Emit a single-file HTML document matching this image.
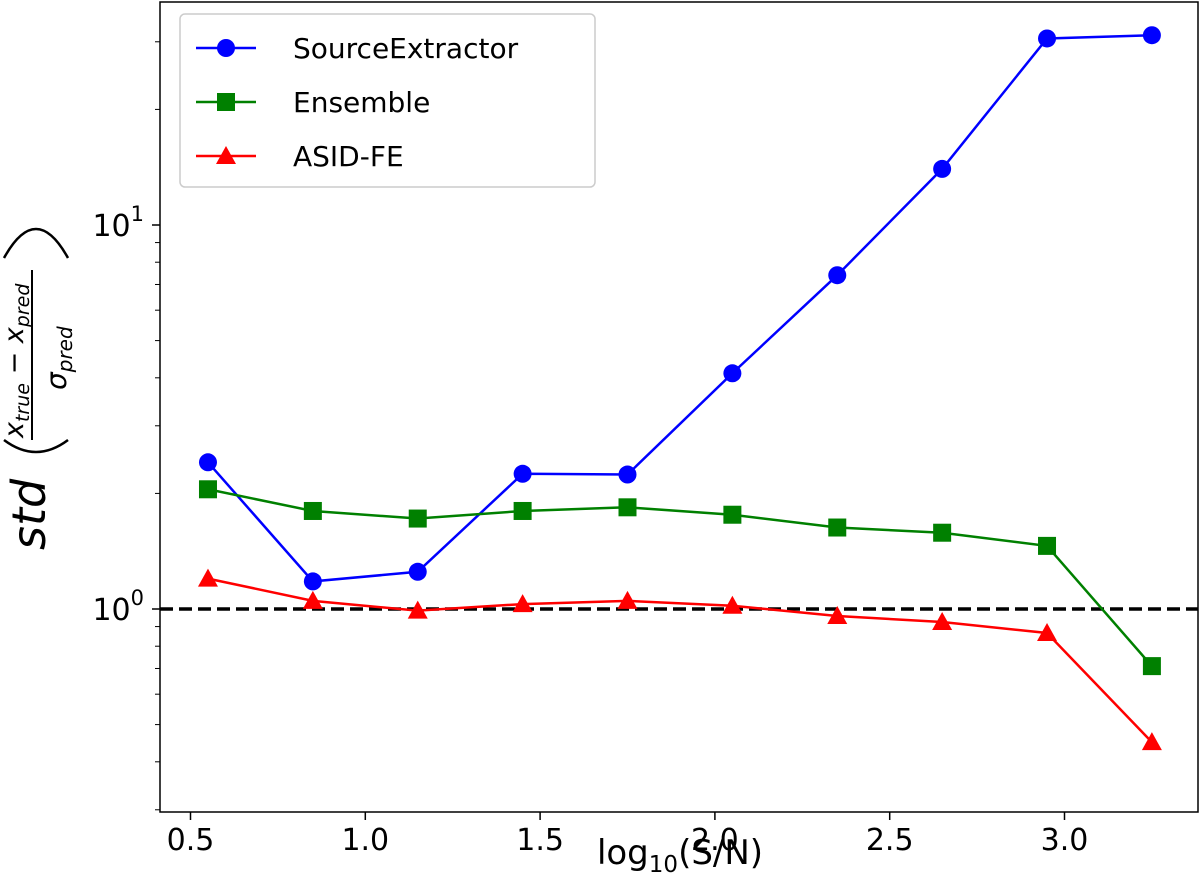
<!DOCTYPE html>
<html><head><meta charset="utf-8"><style>
body{margin:0;background:#fff}
svg text{font-family:"DejaVu Sans","Liberation Sans",sans-serif}
</style></head><body>
<svg id="chart" width="1200" height="874" xmlns="http://www.w3.org/2000/svg">
<g id="axes"></g>
<g id="plot"></g>
<g id="ylabel">
 <g transform="translate(58,410) rotate(-90)">
 <text x="-140" y="-13" font-size="46" font-style="italic">std</text>
 <text x="-28" y="-35" font-size="27" font-style="italic">x<tspan font-size="19" dy="6">true</tspan><tspan dy="-6"> − x</tspan><tspan font-size="19" dy="6">pred</tspan></text>
 <line x1="-30" y1="-26" x2="140" y2="-26" stroke="#000" stroke-width="2"/>
 <text x="20" y="8" font-size="28" font-style="italic">σ<tspan font-size="20" dy="6">pred</tspan></text>
 </g>
 <path d="M4,440 Q36,464 68,440" fill="none" stroke="#000" stroke-width="2.5"/>
 <path d="M4,258 Q36,200 68,258" fill="none" stroke="#000" stroke-width="2.5"/>
</g>
<text x="680" y="864" font-size="34" text-anchor="middle">log<tspan font-size="23" dy="8">10</tspan><tspan dy="-8">(S/N)</tspan></text>
</svg>
<script>
const xs=[0.55,0.85,1.15,1.45,1.75,2.05,2.35,2.65,2.95,3.25];
const sourceExtractor=[2.41,1.18,1.25,2.25,2.24,4.11,7.40,14.0,30.6,31.2];
const ensemble=[2.05,1.80,1.72,1.80,1.84,1.76,1.63,1.58,1.46,0.71];
const asidFe=[1.20,1.05,0.99,1.03,1.05,1.02,0.959,0.925,0.866,0.45];
const xTicks=[0.5,1.0,1.5,2.0,2.5,3.0];
const xTickLabels=["0.5","1.0","1.5","2.0","2.5","3.0"];
const yMinor=[0.3,0.4,0.5,0.6,0.7,0.8,0.9,2,3,4,5,6,7,8,9,20,30];
const L=160,R=1198,T=2,B=812;
const X=v=>190.5+(v-0.5)*349.6;
const Y=v=>609-Math.log10(v)*384;
const NS="http://www.w3.org/2000/svg";
function mk(p,t,a){const e=document.createElementNS(NS,t);for(const k in a)e.setAttribute(k,a[k]);p.appendChild(e);return e;}
const axes=document.getElementById('axes'),plot=document.getElementById('plot');
xTicks.forEach((t,i)=>{
 const g=mk(axes,'g',{});
 
 
 mk(g,'line',{x1:X(t),x2:X(t),y1:B,y2:B+8,stroke:'#000','stroke-width':1.5});
 const tx=mk(g,'text',{x:X(t),y:B+38,'font-size':30,'text-anchor':'middle'});tx.textContent=xTickLabels[i];
});
[[1,'0'],[10,'1']].forEach(([v,e])=>{
 const g=mk(axes,'g',{});
 
 
 mk(g,'line',{x1:L-8,x2:L,y1:Y(v),y2:Y(v),stroke:'#000','stroke-width':1.5});
 const tx=mk(g,'text',{x:L-16,y:Y(v)+11,'font-size':30,'text-anchor':'end'});
 tx.innerHTML='10<tspan font-size="21" dy="-15">'+e+'</tspan>';
});
yMinor.forEach(v=>{if(Y(v)>B)return;const l=mk(axes,'line',{x1:L-5,x2:L,y1:Y(v),y2:Y(v),stroke:'#000','stroke-width':1});
 });
const ref=mk(plot,'line',{x1:L,x2:R,y1:Y(1),y2:Y(1),stroke:'#000','stroke-width':3.5,'stroke-dasharray':'13,6'});

function marker(g,type,x,y,c){
 if(type==='o')return mk(g,'circle',{cx:x,cy:y,r:9,fill:c});
 if(type==='s')return mk(g,'rect',{x:x-9,y:y-9,width:18,height:18,fill:c});
 return mk(g,'polygon',{points:`${x},${y-10} ${x+10},${y+8} ${x-10},${y+8}`,fill:c});
}
const series=[['source-extractor',sourceExtractor,'#0000ff','o'],['ensemble',ensemble,'#008000','s'],['asid-fe',asidFe,'#ff0000','^']];
series.forEach(([n,d,c,m])=>{
 const g=mk(plot,'g',{});
 
 
 mk(g,'polyline',{points:d.map((v,i)=>X(xs[i])+','+Y(v)).join(' '),fill:'none',stroke:c,'stroke-width':2.5});
 d.forEach((v,i)=>{const p=marker(g,m,X(xs[i]),Y(v),c);});
});
const fr=mk(plot,'rect',{x:L,y:T,width:R-L,height:B-T,fill:'none',stroke:'#000','stroke-width':1.5});

const lg=mk(plot,'g',{});


mk(lg,'rect',{x:180,y:14,width:415,height:173,rx:5,fill:'#fff',stroke:'#ccc','stroke-width':1.5});
['SourceExtractor','Ensemble','ASID-FE'].forEach((t,i)=>{
 const [n,,c,m]=series[i];const y=48+i*54;
 const e=mk(lg,'g',{});
 
 
 mk(e,'line',{x1:196,x2:256,y1:y,y2:y,stroke:c,'stroke-width':2.5});
 marker(e,m,226,y,c);
 const tx=mk(e,'text',{x:293,y:y+10,'font-size':28});tx.textContent=t;
});
</script>
</body></html>
